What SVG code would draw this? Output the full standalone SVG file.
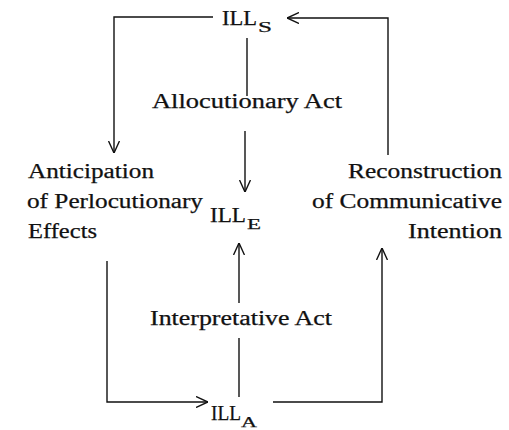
<svg xmlns="http://www.w3.org/2000/svg" width="509" height="430" viewBox="0 0 509 430">
<style>
  .t { font-family: "Liberation Serif", "Times New Roman", serif; font-size: 20px; fill: #111; stroke: #111; stroke-width: 0.25; }
  .sub { font-size: 15px; }
  .c { fill: none; stroke: #111; stroke-width: 1.4; }
</style>
<defs>
  <marker id="v" viewBox="0 0 12 12" refX="12" refY="6" markerWidth="12" markerHeight="12" markerUnits="userSpaceOnUse" orient="auto">
    <path d="M0,0.5 L12,6 L0,11.5" fill="none" stroke="#111" stroke-width="1.4"/>
  </marker>
</defs>
<rect width="509" height="430" fill="#fff"/>
<g id="connectors">
  <path class="c" d="M213,17 H114 V153" marker-end="url(#v)"/>
  <path class="c" d="M388,155 V18 H287" marker-end="url(#v)"/>
  <path class="c" d="M247,38 V96"/>
  <path class="c" d="M245,131 V192" marker-end="url(#v)"/>
  <path class="c" d="M239,303 V243" marker-end="url(#v)"/>
  <path class="c" d="M239,397 V338"/>
  <path class="c" d="M107,261 V402 H208" marker-end="url(#v)"/>
  <path class="c" d="M273,402 H382 V248" marker-end="url(#v)"/>
</g>
<g id="ill-s">
  <text class="t" x="222" y="25" textLength="35" lengthAdjust="spacingAndGlyphs">ILL</text>
  <text class="t sub" x="258" y="32" textLength="14" lengthAdjust="spacingAndGlyphs">S</text>
</g>
<g id="allocutionary-act">
  <text class="t" x="152" y="108" textLength="190" lengthAdjust="spacingAndGlyphs">Allocutionary Act</text>
</g>
<g id="anticipation">
  <text class="t" x="28" y="178" textLength="126" lengthAdjust="spacingAndGlyphs">Anticipation</text>
  <text class="t" x="27" y="208" textLength="176" lengthAdjust="spacingAndGlyphs">of Perlocutionary</text>
  <text class="t" x="28" y="238" textLength="69" lengthAdjust="spacingAndGlyphs">Effects</text>
</g>
<g id="ill-e">
  <text class="t" x="210" y="222" textLength="36" lengthAdjust="spacingAndGlyphs">ILL</text>
  <text class="t sub" x="247" y="229" textLength="14" lengthAdjust="spacingAndGlyphs">E</text>
</g>
<g id="reconstruction">
  <text class="t" x="348" y="178" textLength="154" lengthAdjust="spacingAndGlyphs">Reconstruction</text>
  <text class="t" x="312" y="208" textLength="190" lengthAdjust="spacingAndGlyphs">of Communicative</text>
  <text class="t" x="408" y="238" textLength="94" lengthAdjust="spacingAndGlyphs">Intention</text>
</g>
<g id="interpretative-act">
  <text class="t" x="150" y="325" textLength="182" lengthAdjust="spacingAndGlyphs">Interpretative Act</text>
</g>
<g id="ill-a">
  <text class="t" x="211" y="420" textLength="30" lengthAdjust="spacingAndGlyphs">ILL</text>
  <text class="t sub" x="241" y="427" textLength="16" lengthAdjust="spacingAndGlyphs">A</text>
</g>
</svg>
